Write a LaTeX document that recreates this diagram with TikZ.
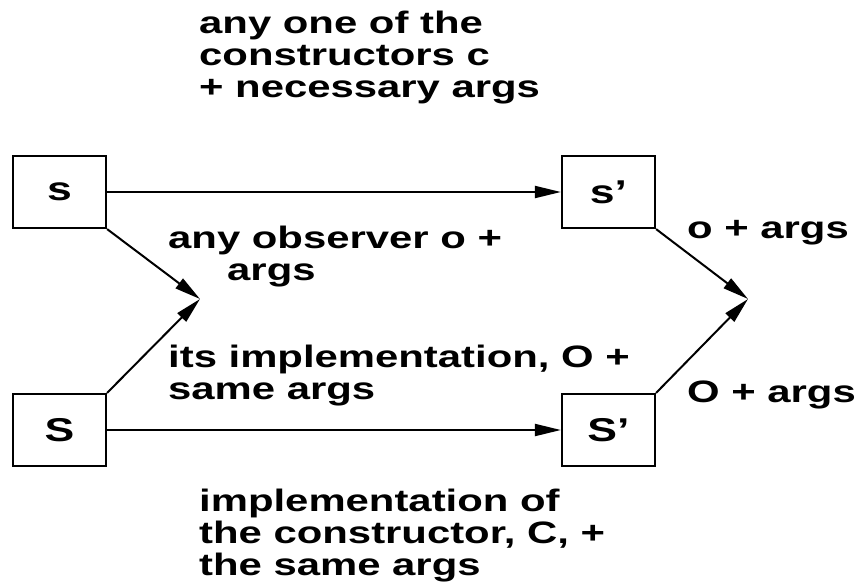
\documentclass[tikz,border=0pt]{standalone}
\usepackage{fontspec}
\setmainfont{Liberation Sans}
\newfontfamily\labfont{Liberation Sans}[FakeStretch=1.35]
\usetikzlibrary{arrows.meta}
\begin{document}
\begin{tikzpicture}[x=1pt,y=-1pt,
  lab/.style={font=\labfont\bfseries\fontsize{31}{32}\selectfont, inner sep=0pt, align=left, anchor=base west},
  state/.style={draw, line width=2.2pt, minimum width=93pt, minimum height=72pt, inner sep=0pt,
    font=\labfont\bfseries\fontsize{33}{34}\selectfont},
  arr/.style={line width=2pt, -{Triangle[length=26pt,width=12pt]}}]
\useasboundingbox (0,0) rectangle (861,584);
\node[state] (s) at (59.5,192) {s};
\node[state] (S) at (59.5,430) {S};
\node[state] (s2) at (608.5,192) {s’};
\node[state] (S2) at (608.5,430) {S’};
\coordinate (m1) at (200,299);
\coordinate (m2) at (748,299);
\draw[arr] (s) -- (s2);
\draw[arr] (S) -- (S2);
\draw[arr] (s.south east) -- (m1);
\draw[arr] (S.north east) -- (m1);
\draw[arr] (s2.south east) -- (m2);
\draw[arr] (S2.north east) -- (m2);
\node[lab] (t1) at (199,97) {any one of the\\constructors c\\+ necessary args};
\node[lab] (t2) at (168,280) {any observer o +\\\hspace*{59pt}args};
\node[lab] (t3) at (168,399) {its implementation, O +\\same args};
\node[lab] (t4) at (687,238) {o + args};
\node[lab] (t5) at (687,402) {O + args};
\node[lab] (t6) at (199,575) {implementation of\\the constructor, C, +\\the same args};
\end{tikzpicture}
\end{document}
